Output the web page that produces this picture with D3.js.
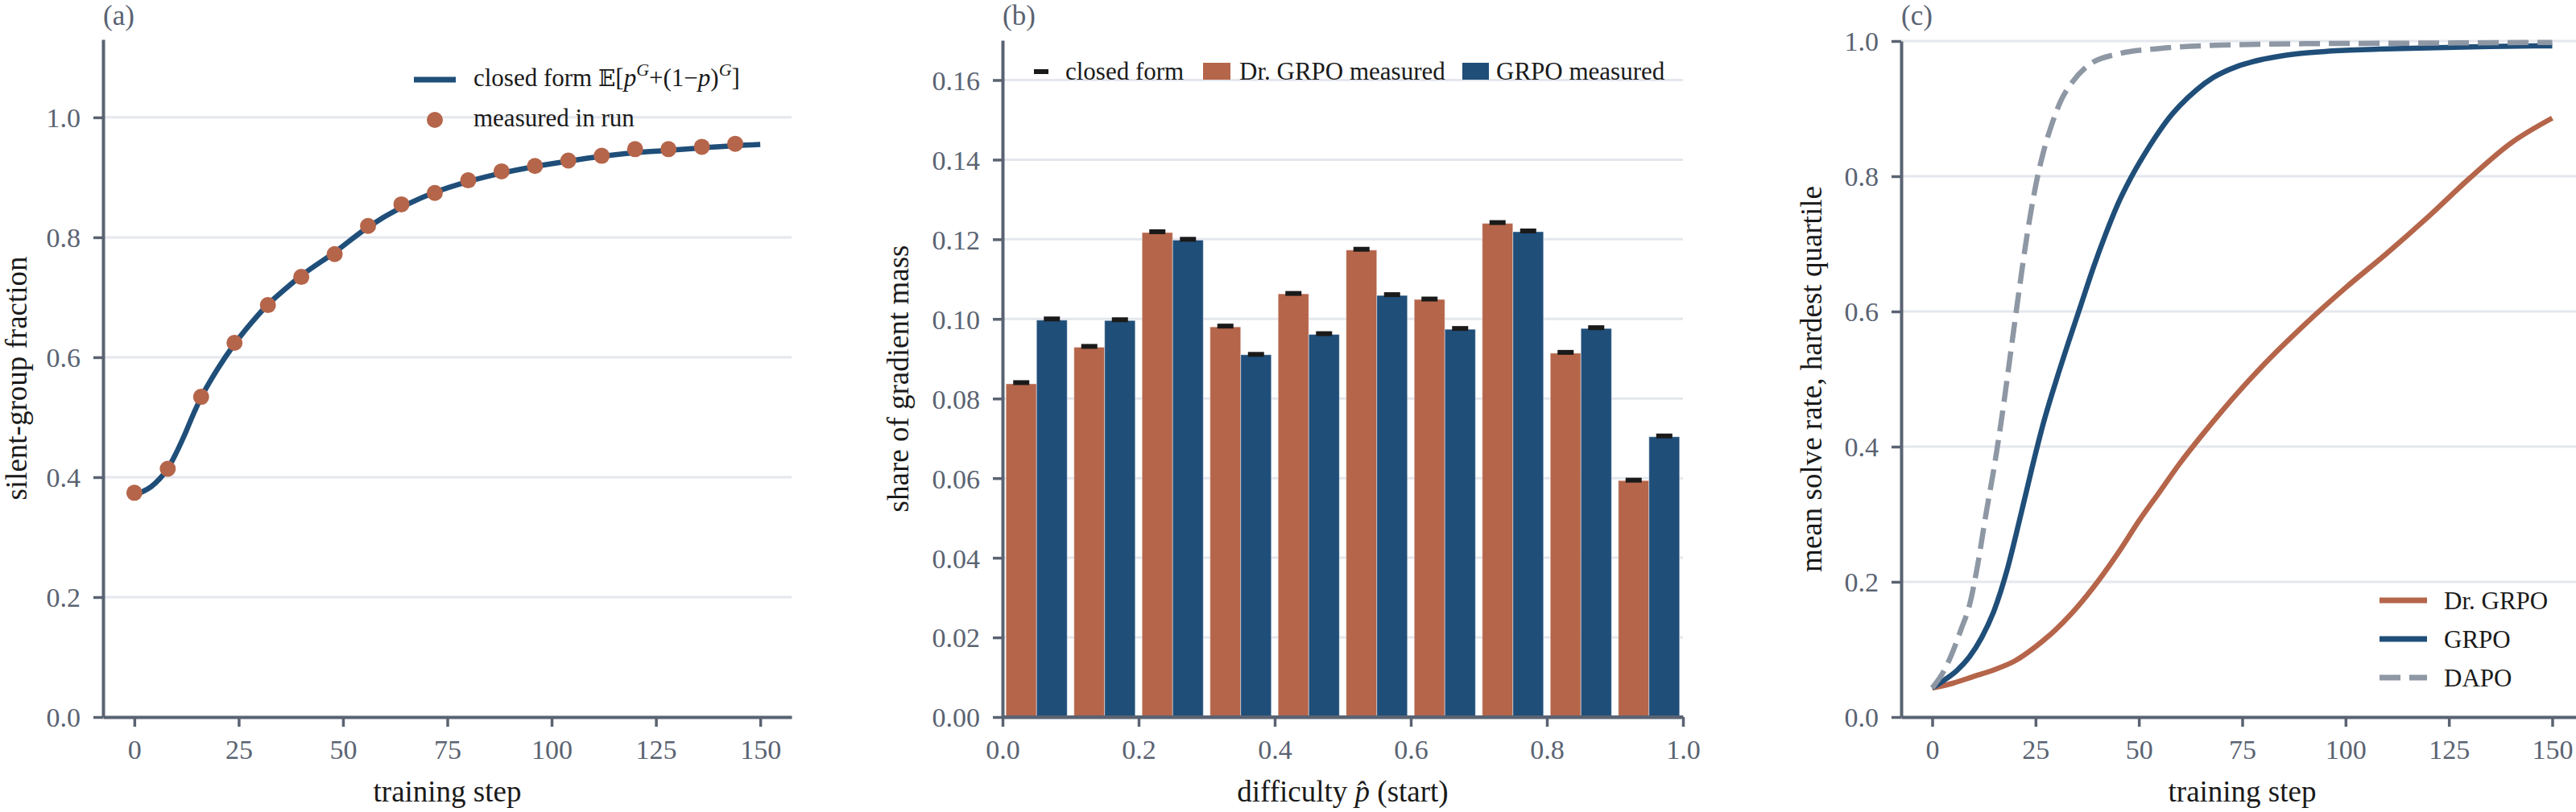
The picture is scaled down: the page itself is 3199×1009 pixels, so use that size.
<!DOCTYPE html>
<html>
<head>
<meta charset="utf-8">
<script src="https://cdn.jsdelivr.net/npm/d3@7"></script>
<style>
  html, body { margin: 0; padding: 0; background: #ffffff; }
  svg { display: block; }
  text { font-family: "Liberation Serif", "Times New Roman", serif; }
</style>
</head>
<body>
<svg id="chart" width="3199" height="1009"></svg>
<script>
// ---------------- DATA ----------------
// Panel (a): silent-group fraction
const stepsMeasuredA = [0, 8, 16, 24, 32, 40, 48, 56, 64, 72, 80, 88, 96, 104, 112, 120, 128, 136, 144];
const measuredA = [0.374, 0.414, 0.534, 0.624, 0.687, 0.734, 0.772, 0.819, 0.855, 0.874, 0.895, 0.910, 0.919, 0.928, 0.936, 0.947, 0.947, 0.951, 0.956];
const stepsClosedA = [0, 2, 4, 6, 8, 10, 12, 14, 16, 18, 20, 24, 28, 32, 36, 40, 48, 56, 64, 72, 80, 88, 96, 104, 112, 120, 128, 136, 144, 150];
const closedA = [0.370, 0.376, 0.384, 0.397, 0.414, 0.440, 0.470, 0.503, 0.533, 0.558, 0.581, 0.622, 0.657, 0.688, 0.713, 0.736, 0.775, 0.817, 0.850, 0.875, 0.893, 0.907, 0.918, 0.927, 0.935, 0.941, 0.945, 0.949, 0.953, 0.955];
const yTicksA = [0.0, 0.2, 0.4, 0.6, 0.8, 1.0];
const xTicksSteps = [0, 25, 50, 75, 100, 125, 150];

// Panel (b): share of gradient mass per difficulty bin
const binStarts = [0.0, 0.1, 0.2, 0.3, 0.4, 0.5, 0.6, 0.7, 0.8, 0.9];
const drGrpoMeasured = [0.0837, 0.0929, 0.1217, 0.0980, 0.1063, 0.1173, 0.1049, 0.1240, 0.0914, 0.0594];
const grpoMeasured = [0.0997, 0.0996, 0.1198, 0.0910, 0.0961, 0.1059, 0.0974, 0.1219, 0.0976, 0.0704];
const drGrpoClosed = [0.0840, 0.0931, 0.1219, 0.0982, 0.1064, 0.1175, 0.1050, 0.1242, 0.0916, 0.0595];
const grpoClosed = [0.1000, 0.0998, 0.1200, 0.0911, 0.0963, 0.1061, 0.0976, 0.1221, 0.0978, 0.0706];
const yTicksB = [0.00, 0.02, 0.04, 0.06, 0.08, 0.10, 0.12, 0.14, 0.16];
const xTicksB = [0.0, 0.2, 0.4, 0.6, 0.8, 1.0];

// Panel (c): mean solve rate, hardest quartile
const stepsDr = [0, 5, 10, 15, 20, 25, 30, 35, 40, 45, 50, 55, 60, 65, 70, 75, 80, 90, 100, 110, 120, 130, 140, 150];
const solveDr = [0.043, 0.050, 0.060, 0.070, 0.083, 0.104, 0.130, 0.162, 0.200, 0.243, 0.290, 0.333, 0.376, 0.415, 0.452, 0.487, 0.520, 0.580, 0.635, 0.686, 0.740, 0.797, 0.849, 0.886];
const stepsGrpo = [0, 3, 6, 9, 12, 15, 18, 21, 24, 27, 30, 33, 36, 39, 42, 45, 48, 51, 54, 57, 60, 64, 68, 74, 80, 88, 96, 108, 120, 135, 150];
const solveGrpo = [0.043, 0.055, 0.069, 0.089, 0.118, 0.158, 0.215, 0.288, 0.365, 0.437, 0.498, 0.555, 0.610, 0.665, 0.715, 0.760, 0.797, 0.829, 0.858, 0.884, 0.905, 0.928, 0.946, 0.963, 0.973, 0.981, 0.985, 0.988, 0.990, 0.992, 0.993];
const stepsDapo = [0, 3, 5, 7, 9, 11, 13, 15, 17, 19, 21, 23, 25, 27, 29, 31, 34, 38, 45, 55, 70, 90, 120, 150];
const solveDapo = [0.043, 0.070, 0.097, 0.130, 0.165, 0.225, 0.300, 0.370, 0.450, 0.540, 0.630, 0.715, 0.785, 0.838, 0.878, 0.910, 0.940, 0.965, 0.981, 0.989, 0.994, 0.996, 0.997, 0.998];
const yTicksC = [0.0, 0.2, 0.4, 0.6, 0.8, 1.0];

// ---------------- STYLE ----------------
const C_ORANGE = "#b5654a";
const C_BLUE = "#1f4e79";
const C_GRAY = "#8e97a4";
const C_AXIS = "#5a6372";
const C_GRID = "#e4e7ed";
const C_TEXT = "#1a1a1a";
const TICK_FONT = 34;
const LABEL_FONT = 37;
const LEGEND_FONT = 31;

const svg = d3.select("#chart");
const Y0 = 891;

function styleAxis(g) {
  g.select(".domain").attr("stroke", C_AXIS).attr("stroke-width", 4);
  g.selectAll(".tick line").attr("stroke", C_AXIS).attr("stroke-width", 3.5);
  g.selectAll(".tick text")
    .attr("fill", C_AXIS)
    .style("font-family", "'Liberation Serif', serif")
    .style("font-size", TICK_FONT + "px");
}

function drawFrame(opts) {
  const { x, y, yTicks, xTicks, yFmt, xFmt, xLabel, yLabel, yLabelX, panel } = opts;
  const [xl, xr] = x.range();
  const g = svg.append("g");
  // gridlines
  g.append("g").selectAll("line").data(yTicks).join("line")
    .attr("x1", xl).attr("x2", xr)
    .attr("y1", d => y(d)).attr("y2", d => y(d))
    .attr("stroke", C_GRID).attr("stroke-width", 3);
  // axes
  const ax = g.append("g").attr("transform", `translate(0,${Y0})`)
    .call(d3.axisBottom(x).tickValues(xTicks).tickFormat(xFmt).tickSize(12).tickSizeOuter(0).tickPadding(16));
  styleAxis(ax);
  const ay = g.append("g").attr("transform", `translate(${xl},0)`)
    .call(d3.axisLeft(y).tickValues(yTicks).tickFormat(yFmt).tickSize(12).tickSizeOuter(0).tickPadding(16));
  styleAxis(ay);
  ay.selectAll(".tick text").attr("dy", "0.35em");
  // labels
  g.append("text").attr("x", (xl + xr) / 2).attr("y", 996)
    .attr("text-anchor", "middle").attr("fill", C_TEXT)
    .style("font-size", LABEL_FONT + "px").html(xLabel);
  const ym = (y.range()[0] + y.range()[1]) / 2;
  g.append("text").attr("transform", `translate(${yLabelX},${ym}) rotate(-90)`)
    .attr("text-anchor", "middle").attr("fill", C_TEXT)
    .style("font-size", LABEL_FONT + "px").text(yLabel);
  g.append("text").attr("x", xl).attr("y", 31).attr("fill", C_AXIS)
    .style("font-size", "35px").text(panel);
  return { ax, ay };
}

// ---------------- PANEL A ----------------
{
  const x = d3.scaleLinear().domain([-7.5, 157.5]).range([128, 983]);
  const y = d3.scaleLinear().domain([0, 1.13]).range([Y0, 49]);
  drawFrame({ x, y, yTicks: yTicksA, xTicks: xTicksSteps, yFmt: d3.format(".1f"), xFmt: d3.format("d"),
    xLabel: "training step", yLabel: "silent-group fraction", yLabelX: 33, panel: "(a)" });
  const line = d3.line().x(d => x(d[0])).y(d => y(d[1])).curve(d3.curveMonotoneX);
  svg.append("path").datum(d3.zip(stepsClosedA, closedA)).attr("d", line)
    .attr("fill", "none").attr("stroke", C_BLUE).attr("stroke-width", 6.5).attr("stroke-linecap", "butt");
  svg.append("g").selectAll("circle").data(d3.zip(stepsMeasuredA, measuredA)).join("circle")
    .attr("cx", d => x(d[0])).attr("cy", d => y(d[1])).attr("r", 10).attr("fill", C_ORANGE);
  // legend
  const lg = svg.append("g");
  lg.append("line").attr("x1", 514).attr("x2", 566).attr("y1", 99).attr("y2", 99)
    .attr("stroke", C_BLUE).attr("stroke-width", 7);
  const t1 = lg.append("text").attr("x", 588).attr("y", 107).attr("fill", C_TEXT).style("font-size", LEGEND_FONT + "px");
  t1.append("tspan").text("closed form ");
  t1.append("tspan").style("font-family", "'DejaVu Serif', serif").style("font-size", "28px").text("\u{1D53C}");
  t1.append("tspan").text("[");
  t1.append("tspan").style("font-style", "italic").text("p");
  t1.append("tspan").style("font-style", "italic").style("font-size", "22px").attr("dy", -13).text("G");
  t1.append("tspan").attr("dy", 13).text("+(1\u2212");
  t1.append("tspan").style("font-style", "italic").text("p");
  t1.append("tspan").text(")");
  t1.append("tspan").style("font-style", "italic").style("font-size", "22px").attr("dy", -13).text("G");
  t1.append("tspan").attr("dy", 13).text("]");
  lg.append("circle").attr("cx", 540).attr("cy", 149).attr("r", 10).attr("fill", C_ORANGE);
  lg.append("text").attr("x", 588).attr("y", 157).attr("fill", C_TEXT).style("font-size", LEGEND_FONT + "px")
    .text("measured in run");
}

// ---------------- PANEL B ----------------
{
  const x = d3.scaleLinear().domain([0, 1]).range([1245, 2090]);
  const y = d3.scaleLinear().domain([0, 0.17]).range([Y0, 50]);
  drawFrame({ x, y, yTicks: yTicksB, xTicks: xTicksB, yFmt: d3.format(".2f"), xFmt: d3.format(".1f"),
    xLabel: "difficulty <tspan style=\"font-style:italic\">p\u0302</tspan> (start)", yLabel: "share of gradient mass", yLabelX: 1128, panel: "(b)" });
  const bw = 0.045;
  const gb = svg.append("g");
  const series = [
    { vals: drGrpoMeasured, closed: drGrpoClosed, off: 0.005, color: C_ORANGE },
    { vals: grpoMeasured, closed: grpoClosed, off: 0.05, color: C_BLUE }
  ];
  series.forEach(s => {
    gb.append("g").selectAll("rect").data(binStarts).join("rect")
      .attr("x", (d) => x(d + s.off))
      .attr("width", x(bw) - x(0))
      .attr("y", (d, i) => y(s.vals[i]))
      .attr("height", (d, i) => Y0 - y(s.vals[i]))
      .attr("fill", s.color)
      .attr("stroke", "#ffffff").attr("stroke-opacity", 0.45).attr("stroke-width", 1);
  });
  series.forEach(s => {
    gb.append("g").selectAll("rect").data(binStarts).join("rect")
      .attr("x", d => x(d + s.off + bw / 2) - 10)
      .attr("width", 20)
      .attr("y", (d, i) => y(s.closed[i]) - 3)
      .attr("height", 6)
      .attr("fill", "#1a1a1a");
  });
  // redraw x-axis domain over bars
  svg.append("line").attr("x1", 1245).attr("x2", 2090).attr("y1", Y0).attr("y2", Y0)
    .attr("stroke", C_AXIS).attr("stroke-width", 4);
  // legend
  const lg = svg.append("g").style("font-size", LEGEND_FONT + "px");
  lg.append("rect").attr("x", 1284).attr("y", 86).attr("width", 18).attr("height", 6).attr("fill", "#1a1a1a");
  lg.append("text").attr("x", 1323).attr("y", 99).attr("fill", C_TEXT).text("closed form");
  lg.append("rect").attr("x", 1494).attr("y", 78).attr("width", 34).attr("height", 21).attr("fill", C_ORANGE);
  lg.append("text").attr("x", 1539).attr("y", 99).attr("fill", C_TEXT).text("Dr. GRPO measured");
  lg.append("rect").attr("x", 1816).attr("y", 78).attr("width", 33).attr("height", 21).attr("fill", C_BLUE);
  lg.append("text").attr("x", 1858).attr("y", 99).attr("fill", C_TEXT).text("GRPO measured");
}

// ---------------- PANEL C ----------------
{
  const x = d3.scaleLinear().domain([-7.5, 157.5]).range([2361, 3208]);
  const y = d3.scaleLinear().domain([0, 1.0]).range([Y0, 51]);
  drawFrame({ x, y, yTicks: yTicksC, xTicks: xTicksSteps, yFmt: d3.format(".1f"), xFmt: d3.format("d"),
    xLabel: "training step", yLabel: "mean solve rate, hardest quartile", yLabelX: 2262, panel: "(c)" });
  const line = d3.line().x(d => x(d[0])).y(d => y(d[1])).curve(d3.curveMonotoneX);
  const gc = svg.append("g");
  gc.append("path").datum(d3.zip(stepsDr, solveDr)).attr("d", line)
    .attr("fill", "none").attr("stroke", C_ORANGE).attr("stroke-width", 6.5);
  gc.append("path").datum(d3.zip(stepsGrpo, solveGrpo)).attr("d", line)
    .attr("fill", "none").attr("stroke", C_BLUE).attr("stroke-width", 6.5);
  gc.append("path").datum(d3.zip(stepsDapo, solveDapo)).attr("d", line)
    .attr("fill", "none").attr("stroke", C_GRAY).attr("stroke-width", 6.5)
    .attr("stroke-dasharray", "26,11");
  // legend
  const lg = svg.append("g").style("font-size", LEGEND_FONT + "px");
  const items = [
    { label: "Dr. GRPO", color: C_ORANGE, dash: null, cy: 746 },
    { label: "GRPO", color: C_BLUE, dash: null, cy: 794 },
    { label: "DAPO", color: C_GRAY, dash: "26,11", cy: 842 }
  ];
  items.forEach(it => {
    lg.append("line").attr("x1", 2955).attr("x2", 3014).attr("y1", it.cy).attr("y2", it.cy)
      .attr("stroke", it.color).attr("stroke-width", 7).attr("stroke-dasharray", it.dash);
    lg.append("text").attr("x", 3035).attr("y", it.cy + 11).attr("fill", C_TEXT).text(it.label);
  });
}
</script>
</body>
</html>
